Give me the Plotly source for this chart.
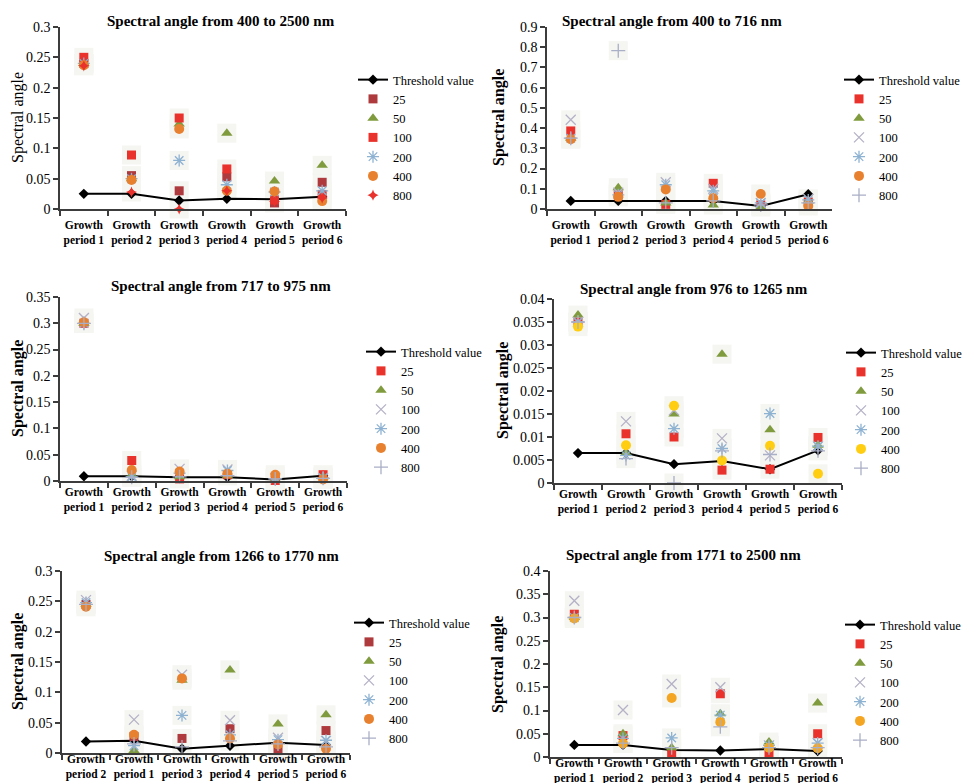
import plotly.graph_objects as go

W, H = 963, 783
FONT = "Liberation Serif"

# ---------------- data ----------------
CATS = ["Growth<br>period 1", "Growth<br>period 2", "Growth<br>period 3",
        "Growth<br>period 4", "Growth<br>period 5", "Growth<br>period 6"]
CATS_P5 = ["Growth<br>period 2", "Growth<br>period 1", "Growth<br>period 3",
           "Growth<br>period 4", "Growth<br>period 5", "Growth<br>period 6"]
SERIES = ["Threshold value", "25", "50", "100", "200", "400", "800"]

TITLES = ["Spectral angle from 400 to 2500 nm", "Spectral angle from 400 to 716 nm",
          "Spectral angle from 717 to 975 nm", "Spectral angle from 976 to 1265 nm",
          "Spectral angle from 1266 to 1770 nm", "Spectral angle from 1771 to 2500 nm"]
Y_TITLE = "Spectral angle"

# panel 1: 400-2500 nm
p1_thr = [0.025, 0.025, 0.014, 0.017, 0.016, 0.020]
p1_25 = [0.240, 0.055, 0.030, 0.053, 0.010, 0.044]
p1_50 = [0.240, 0.050, 0.140, 0.125, 0.046, 0.072]
p1_100 = [0.250, 0.089, 0.150, 0.066, 0.015, 0.024]
p1_200 = [0.240, 0.050, 0.080, 0.040, 0.028, 0.030]
p1_400 = [0.237, 0.048, 0.132, 0.030, 0.029, 0.013]
p1_800 = [0.236, 0.028, 0.000, 0.030, 0.012, 0.018]

# panel 2: 400-716 nm
p2_thr = [0.040, 0.040, 0.040, 0.040, 0.015, 0.073]
p2_25 = [0.386, 0.070, 0.023, 0.127, 0.020, 0.035]
p2_50 = [0.350, 0.105, 0.030, 0.020, 0.010, 0.040]
p2_100 = [0.441, 0.080, 0.132, 0.100, 0.030, 0.050]
p2_200 = [0.350, 0.070, 0.120, 0.090, 0.030, 0.045]
p2_400 = [0.345, 0.060, 0.097, 0.053, 0.074, 0.015]
p2_800 = [0.350, 0.783, 0.030, 0.040, 0.020, 0.030]

# panel 3: 717-975 nm
p3_thr = [0.009, 0.009, 0.007, 0.007, 0.003, 0.010]
p3_25 = [0.300, 0.039, 0.004, 0.012, 0.001, 0.012]
p3_50 = [0.300, 0.012, 0.008, 0.010, 0.002, 0.008]
p3_100 = [0.310, 0.010, 0.023, 0.022, 0.006, 0.006]
p3_200 = [0.300, 0.008, 0.015, 0.020, 0.004, 0.006]
p3_400 = [0.302, 0.021, 0.018, 0.014, 0.012, 0.003]
p3_800 = [0.300, 0.007, 0.008, 0.010, 0.004, 0.005]

# panel 4: 976-1265 nm
p4_thr = [0.0065, 0.0065, 0.0041, 0.0048, 0.0030, 0.0071]
p4_25 = [0.0350, 0.0107, 0.0100, 0.0028, 0.0030, 0.0099]
p4_50 = [0.0365, 0.0065, 0.0150, 0.0280, 0.0116, 0.0082]
p4_100 = [0.0350, 0.0134, 0.0158, 0.0097, 0.0060, 0.0080]
p4_200 = [0.0350, 0.0060, 0.0118, 0.0075, 0.0151, 0.0080]
p4_400 = [0.0340, 0.0082, 0.0168, 0.0049, 0.0081, 0.0020]
p4_800 = [0.0350, 0.0053, 0.0000, 0.0070, 0.0062, 0.0070]

# panel 5: 1266-1770 nm
p5_thr = [0.019, 0.020, 0.007, 0.012, 0.017, 0.013]
p5_25 = [0.245, 0.027, 0.024, 0.040, 0.004, 0.037]
p5_50 = [0.245, 0.004, 0.120, 0.137, 0.048, 0.063]
p5_100 = [0.252, 0.055, 0.129, 0.054, 0.025, 0.020]
p5_200 = [0.248, 0.012, 0.062, 0.030, 0.022, 0.021]
p5_400 = [0.241, 0.030, 0.123, 0.024, 0.014, 0.007]
p5_800 = [0.245, 0.015, 0.010, 0.020, 0.015, 0.010]

# panel 6: 1771-2500 nm
p6_thr = [0.026, 0.026, 0.015, 0.014, 0.017, 0.013]
p6_25 = [0.307, 0.046, 0.009, 0.136, 0.007, 0.050]
p6_50 = [0.300, 0.050, 0.020, 0.093, 0.032, 0.116]
p6_100 = [0.336, 0.101, 0.157, 0.150, 0.025, 0.030]
p6_200 = [0.300, 0.040, 0.041, 0.090, 0.025, 0.030]
p6_400 = [0.298, 0.029, 0.127, 0.075, 0.020, 0.019]
p6_800 = [0.300, 0.030, 0.020, 0.065, 0.020, 0.020]

PANEL_DATA = [
    [p1_thr, p1_25, p1_50, p1_100, p1_200, p1_400, p1_800],
    [p2_thr, p2_25, p2_50, p2_100, p2_200, p2_400, p2_800],
    [p3_thr, p3_25, p3_50, p3_100, p3_200, p3_400, p3_800],
    [p4_thr, p4_25, p4_50, p4_100, p4_200, p4_400, p4_800],
    [p5_thr, p5_25, p5_50, p5_100, p5_200, p5_400, p5_800],
    [p6_thr, p6_25, p6_50, p6_100, p6_200, p6_400, p6_800],
]
PANEL_CATS = [CATS, CATS, CATS, CATS, CATS_P5, CATS]
Y_MAX = [0.3, 0.9, 0.35, 0.04, 0.3, 0.4]
Y_DTICK = [0.05, 0.1, 0.05, 0.005, 0.05, 0.05]

# ---------------- styles ----------------
DARKRED = "#AE3A3D"
RED = "#E8322B"
GREEN = "#7F9B3D"
XGRAY = "#B5B1C6"
ABLUE = "#8DB2D2"
ORANGE = "#E8812F"
YELLOW = "#FFCE12"
GOLD = "#F4A623"
PGRAY = "#A9AFC6"

STD = [("square", RED), ("triangle-up", GREEN), ("x-thin-open", XGRAY),
       ("asterisk-open", ABLUE), ("circle", ORANGE), ("cross-thin-open", PGRAY)]
P1 = [("square", DARKRED), ("triangle-up", GREEN), ("square", RED),
      ("asterisk-open", ABLUE), ("circle", ORANGE), ("star-diamond", RED)]
P4 = [("square", RED), ("triangle-up", GREEN), ("x-thin-open", XGRAY),
      ("asterisk-open", ABLUE), ("circle", YELLOW), ("cross-thin-open", PGRAY)]
P5 = [("square", DARKRED), ("triangle-up", GREEN), ("x-thin-open", XGRAY),
      ("asterisk-open", ABLUE), ("circle", ORANGE), ("cross-thin-open", PGRAY)]
P6 = [("square", RED), ("triangle-up", GREEN), ("x-thin-open", XGRAY),
      ("asterisk-open", ABLUE), ("circle", GOLD), ("cross-thin-open", PGRAY)]
PANEL_STYLE = [P1, STD, STD, P4, P5, P6]

# pixel geometry: (x0, x1, ytop, ybottom)
BOX = [(60, 346, 27, 209), (547, 832, 27, 209), (60, 347, 297, 481),
       (554, 842, 299, 483), (62, 350, 571, 753), (550, 842, 571, 757)]
TITLE_POS = [(221, 21), (672, 21), (221, 286), (694, 289), (221, 556), (683, 555)]
YTITLE_POS = [(18, 118), (499, 118), (18, 389), (503, 391), (18, 662), (498, 664)]
YTITLE_BOLD = [False, True, True, True, True, True]
LEG_POS = [(391, 78), (877, 78), (399, 350), (879, 351), (387, 621), (878, 623)]
XLABEL_STANDOFF = [4, 4, -1, -1, -6, -6]

AXIS_COLOR = "#3C3C3C"

fig = go.Figure()
layout = dict(
    width=W, height=H, margin=dict(l=0, r=0, t=0, b=0, autoexpand=False),
    paper_bgcolor="white", plot_bgcolor="white",
    font=dict(family=FONT, color="black", size=14),
    annotations=[],
)

for i in range(6):
    n = "" if i == 0 else str(i + 1)
    xa, ya = "x" + n, "y" + n
    leg = "legend" + n
    cats = PANEL_CATS[i]
    data = PANEL_DATA[i]
    styles = PANEL_STYLE[i]

    # faint glow boxes behind the markers
    hx, hy = [], []
    for vals in data[1:]:
        hx += cats
        hy += vals
    fig.add_trace(go.Scatter(x=hx, y=hy, mode="markers", xaxis=xa, yaxis=ya,
                             marker=dict(symbol="square", size=19, color="#F5F5F2"),
                             showlegend=False, hoverinfo="skip", cliponaxis=False,
                             legend=leg))
    # threshold line
    fig.add_trace(go.Scatter(x=cats, y=data[0], mode="lines+markers", name=SERIES[0],
                             xaxis=xa, yaxis=ya, legend=leg, cliponaxis=False,
                             line=dict(color="black", width=2),
                             marker=dict(symbol="diamond", size=8, color="black")))
    for k, vals in enumerate(data[1:]):
        sym, col = styles[k]
        if sym.endswith("-open"):
            mk = dict(symbol=sym, size=10, color=col, line=dict(color=col, width=1.3))
        elif sym == "star-diamond":
            mk = dict(symbol=sym, size=8, color=col, line=dict(width=0))
        else:
            mk = dict(symbol=sym, size=10 if sym != "square" else 9, color=col,
                      line=dict(width=0))
        fig.add_trace(go.Scatter(x=cats, y=vals, mode="markers", name=SERIES[k + 1],
                                 xaxis=xa, yaxis=ya, legend=leg, cliponaxis=False,
                                 marker=mk))

    x0, x1, yt, yb = BOX[i]
    layout["xaxis" + n] = dict(
        domain=[x0 / W, x1 / W], anchor=ya, type="category", range=[-0.5, 5.5],
        categoryorder="array", categoryarray=cats, tickangle=0,
        tickson="boundaries", ticks="outside", ticklen=5, tickcolor=AXIS_COLOR,
        tickwidth=1.5, showline=True, linecolor=AXIS_COLOR, linewidth=1.5,
        showgrid=False, zeroline=False, ticklabelstandoff=XLABEL_STANDOFF[i],
        tickfont=dict(family=FONT, size=11.5, color="black", weight="bold"),
    )
    layout["yaxis" + n] = dict(
        domain=[1 - yb / H, 1 - yt / H], anchor=xa, range=[0, Y_MAX[i]],
        dtick=Y_DTICK[i], tick0=0, ticks="outside", ticklen=5, tickcolor=AXIS_COLOR,
        tickwidth=1.5, showline=True, linecolor=AXIS_COLOR, linewidth=1.5,
        showgrid=False, zeroline=False,
        tickfont=dict(family=FONT, size=14, color="black"),
    )
    lx, ly = LEG_POS[i]
    layout[leg] = dict(
        x=(lx - 38) / W, y=1 - (ly - 13) / H, xanchor="left", yanchor="top",
        bgcolor="rgba(0,0,0,0)", font=dict(family=FONT, size=12.5, color="black"),
        itemwidth=30, tracegroupgap=0, traceorder="normal",
    )
    tx, ty = TITLE_POS[i]
    layout["annotations"].append(dict(
        text="<b>" + TITLES[i] + "</b>", x=tx / W, y=1 - ty / H, xref="paper",
        yref="paper", showarrow=False, xanchor="center", yanchor="middle",
        font=dict(family=FONT, size=15, color="black")))
    yx, yy = YTITLE_POS[i]
    txt = ("<b>" + Y_TITLE + "</b>") if YTITLE_BOLD[i] else Y_TITLE
    layout["annotations"].append(dict(
        text=txt, x=yx / W, y=1 - yy / H, xref="paper", yref="paper",
        showarrow=False, xanchor="center", yanchor="middle", textangle=-90,
        font=dict(family=FONT, size=16, color="black")))

fig.update_layout(**layout)
fig.write_html("out.html", config={"displayModeBar": False},
               post_script="document.body.style.margin='0';document.body.style.overflow='hidden';")
